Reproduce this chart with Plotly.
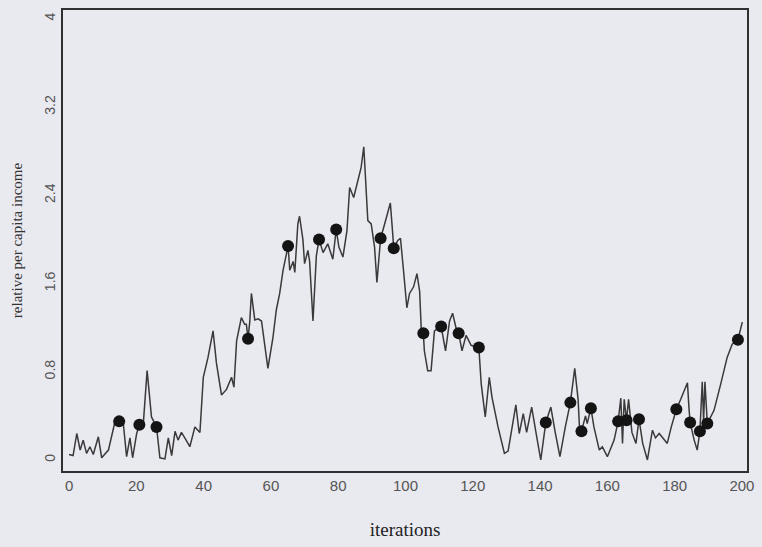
import plotly.graph_objects as go

# Simulated relative per capita income over the iterations of the model run
iterations = [
    0, 1.2, 2.3, 3.3, 4.2, 5.2, 6.2, 7.2, 8.7, 9.7, 11.7, 13.6, 14.9, 16.1, 17.1,
    18.1, 18.9, 20.1, 20.9, 22.0, 23.2, 24.5, 26.0, 27.0, 28.5, 29.5, 30.5, 31.5,
    32.4, 33.4, 34.4, 35.9, 37.4, 38.9, 39.9, 41.3, 42.8, 43.8, 45.3, 46.8, 48.3,
    49.0, 49.8, 51.2, 52.2, 52.7, 53.2, 53.7, 54.2, 55.2, 56.2, 57.2, 59.1, 60.6,
    61.6, 62.6, 63.6, 64.4, 65.1, 65.6, 66.6, 67.1, 68.0, 68.5, 69.5, 70.0, 71.0,
    71.5, 72.5, 73.5, 74.3, 75.5, 76.9, 78.4, 79.4, 80.2, 81.4, 82.6, 83.4, 84.6,
    85.8, 86.8, 87.6, 88.3, 88.8, 89.8, 90.8, 91.5, 92.6, 93.8, 94.8, 95.5, 96.2,
    96.5, 97.7, 98.5, 99.4, 100.4, 101.2, 102.4, 103.4, 104.2, 104.7, 105.3, 105.6,
    106.6, 107.6, 108.6, 110.6, 111.9, 113.1, 114.0, 115.0, 115.8, 116.8, 118.0,
    119.5, 121.8, 122.5, 123.7, 124.9, 125.7, 127.5, 129.4, 130.5, 132.8, 133.8,
    135.0, 136.0, 137.5, 139.0, 140.2, 141.7, 143.2, 144.5, 145.9, 147.5, 149.0,
    150.3, 151.3, 151.7, 152.3, 153.5, 154.0, 155.1, 156.0, 157.6, 158.5, 160.0,
    161.0, 162.0, 163.2, 164.0, 164.5, 165.0, 165.7, 166.3, 167.3, 168.5, 169.4,
    170.5, 171.9, 173.4, 174.3, 175.4, 176.5, 177.8, 179.0, 180.5, 181.8, 183.8,
    184.3, 184.6, 185.8, 186.7, 187.5, 188.2, 188.6, 189.0, 189.7, 191.7, 193.7,
    195.6, 197.1, 198.8, 200.1,
]
income = [
    0.05, 0.04, 0.24, 0.09, 0.18, 0.06, 0.12, 0.05, 0.21, 0.02, 0.09, 0.34, 0.35, 0.34, 0.03,
    0.20, 0.02, 0.24, 0.32, 0.30, 0.81, 0.39, 0.30, 0.02, 0.01, 0.20, 0.04, 0.26,
    0.18, 0.25, 0.20, 0.12, 0.30, 0.25, 0.75, 0.93, 1.17, 0.88, 0.59, 0.64, 0.75,
    0.66, 1.08, 1.29, 1.23, 1.23, 1.10, 1.25, 1.51, 1.27, 1.28, 1.26, 0.83, 1.11,
    1.36, 1.51, 1.72, 1.83, 1.94, 1.72, 1.80, 1.70, 2.14, 2.21, 2.00, 1.78, 1.90,
    1.80, 1.26, 1.85, 2.00, 1.88, 1.96, 1.82, 2.09, 1.93, 1.84, 2.08, 2.47, 2.38,
    2.53, 2.65, 2.84, 2.47, 2.17, 2.14, 1.93, 1.61, 2.01, 2.14, 2.26, 2.33, 2.05,
    1.92, 1.99, 2.01, 1.72, 1.38, 1.51, 1.57, 1.69, 1.53, 1.17, 1.15, 0.99,
    0.81, 0.81, 1.17, 1.21, 0.99, 1.26, 1.33, 1.20, 1.15, 0.99, 1.13,
    1.04, 1.02, 0.69, 0.39, 0.75, 0.57, 0.30, 0.06, 0.08, 0.50, 0.24,
    0.42, 0.25, 0.48, 0.21, 0.00, 0.34, 0.48, 0.25, 0.03, 0.30, 0.52,
    0.83, 0.55, 0.30, 0.26, 0.40, 0.33, 0.47, 0.30, 0.09, 0.12, 0.03,
    0.11, 0.18, 0.35, 0.56, 0.15, 0.55, 0.36, 0.55, 0.25, 0.15, 0.37,
    0.15, 0.00, 0.27, 0.20, 0.24, 0.20, 0.15, 0.30, 0.46, 0.55, 0.70,
    0.45, 0.34, 0.18, 0.09, 0.26, 0.71, 0.35, 0.71, 0.33, 0.45, 0.69,
    0.93, 1.05, 1.09, 1.25,
]

# Iterations at which an event is flagged on the trajectory
event_iterations = [
    14.9, 20.9, 26.0, 53.2, 65.1, 74.3, 79.4, 92.6, 96.5, 105.3, 110.6, 115.8,
    121.8, 141.7, 149.0, 152.3, 155.1, 163.2, 165.7, 169.4, 180.5, 184.6, 187.5,
    189.7, 198.8,
]
event_income = [income[iterations.index(t)] for t in event_iterations]

x_ticks = [0, 20, 40, 60, 80, 100, 120, 140, 160, 180, 200]
y_ticks = [0, 0.8, 1.6, 2.4, 3.2, 4]
y_tick_text = ["0", "0.8", "1.6", "2.4", "3.2", "4"]

bg = "#e9e9f0"

fig = go.Figure()
fig.add_trace(go.Scatter(
    x=iterations, y=income, mode="lines",
    line=dict(color="#3a3a3a", width=1.5),
    hoverinfo="skip", showlegend=False,
))
fig.add_trace(go.Scatter(
    x=event_iterations, y=event_income, mode="markers",
    marker=dict(color="#141414", size=12, line=dict(width=0)),
    showlegend=False,
))

fig.update_layout(
    width=762, height=547,
    margin=dict(l=63, r=14, t=8, b=76),
    paper_bgcolor=bg, plot_bgcolor=bg,
    font=dict(family="Liberation Sans", color="#555555", size=14),
)
fig.update_xaxes(
    range=[-1.8, 201.5], tickvals=x_ticks, showgrid=False, zeroline=False,
    showline=True, linecolor="#303030", linewidth=2, mirror=True,
    ticks="", tickfont=dict(size=15, color="#555555"),
    title=dict(text="iterations", standoff=30,
               font=dict(family="Liberation Serif", size=19, color="#222222")),
)
fig.update_yaxes(
    range=[-0.1, 4.08], tickvals=y_ticks, ticktext=y_tick_text, tickangle=-90,
    showgrid=False, zeroline=False,
    showline=True, linecolor="#303030", linewidth=2, mirror=True,
    ticks="", tickfont=dict(size=14, color="#555555"),
    title=dict(text="relative per capita income", standoff=16,
               font=dict(family="Liberation Serif", size=15, color="#333333")),
)

fig.write_html("out.html")
